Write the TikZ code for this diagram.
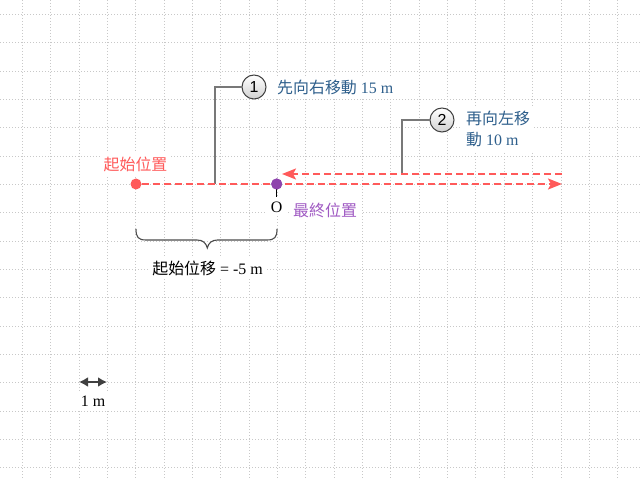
\documentclass[tikz,border=0pt]{standalone}
\usepackage{fontspec}
\setmainfont{Liberation Serif}
\newfontfamily\cjk{Noto Sans CJK TC}
\newfontfamily\digitfont{Liberation Sans}
\usetikzlibrary{arrows.meta}
\definecolor{myred}{RGB}{255,90,90}
\definecolor{mypurple}{RGB}{142,68,173}
\definecolor{mypurpletext}{RGB}{160,90,195}
\definecolor{myblue}{RGB}{46,95,140}
\definecolor{gridgray}{RGB}{200,200,200}
\definecolor{leadergray}{RGB}{120,120,120}
\tikzset{
  gridline/.style={draw=gridgray, line width=0.9bp, dash pattern=on 1bp off 2bp},
  redline/.style={draw=myred, line width=2bp, dash pattern=on 7bp off 4bp},
  redtip/.style={-{Stealth[length=14bp,width=11bp,inset=3bp,fill=myred]}},
  leader/.style={draw=leadergray, line width=1.3bp},
  numcircle/.style={circle, draw=black!75, line width=1bp, minimum size=24bp, inner sep=0pt,
    top color=white, bottom color=black!18, font=\digitfont\fontsize{16}{18}\selectfont},
  lbl/.style={fill=white, inner sep=4bp, font=\fontsize{16}{19}\selectfont},
  dotnode/.style={circle, minimum size=11bp, inner sep=0pt},
}
\begin{document}
\begin{tikzpicture}[x=1bp,y=-1bp]
\useasboundingbox (0,0) rectangle (640,480);
\fill[white] (0,0) rectangle (640,480);
% grid
\foreach \i in {0,...,21} \draw[gridline] ({22.3+28.35*\i},0) -- ({22.3+28.35*\i},480);
\foreach \j in {0,...,16} \draw[gridline] (0,{14.3+28.35*\j}) -- (640,{14.3+28.35*\j});

% labels
\node[lbl, text=myblue, anchor=west] (t1) at (273,87) {{\cjk 先向右移動} 15 m};
\node[lbl, text=myblue, anchor=west, align=left, font=\fontsize{16}{22}\selectfont] (t2) at (462,129) {{\cjk 再向左移}\\{\cjk 動} 10 m};
\node[lbl, text=myred] (tstart) at (135.5,164) {\cjk 起始位置};
\node[lbl, text=mypurpletext, anchor=west] (tend) at (289,210) {\cjk 最終位置};
\node[lbl] (tO) at (276.7,207) {O};
\node[lbl] (tdisp) at (207.5,268) {{\cjk 起始位移} = -5 m};
\node[lbl] (tscale) at (93,401) {1 m};

% callout circles
\node[numcircle] (c1) at (254,87) {1};
\node[numcircle] (c2) at (442,120) {2};

% coordinates
\coordinate (L1) at (215,184);
\coordinate (L2) at (402,174);
\coordinate (E) at (562,184);
\coordinate (U1) at (562,174);
\coordinate (U2) at (282,174);
\coordinate (Otick) at (276.7,197);
\coordinate (sa) at (79,382);
\coordinate (sb) at (107,382);

% leaders
\draw[leader] (c1.west) -| (L1);
\draw[leader] (c2.west) -| (L2);

% dots
\node[dotnode, fill=myred] (start) at (136,184) {};
\node[dotnode, fill=mypurple] (O) at (276.7,184) {};

% motion arrows
\draw[redline, redtip] (start.east) -- (E);
\draw[redline, redtip] (U1) -- (U2);

% tick under O
\draw[black, line width=1bp] (O.center) -- (Otick);
\node[dotnode, fill=mypurple] at (O) {};

% brace
\draw[draw=black!70, line width=1.1bp]
  (136,229) .. controls (136,237) and (138,240) .. (146,240) -- (197,240)
  .. controls (203,240) and (206,243) .. (207.3,248)
  .. controls (208.6,243) and (211.6,240) .. (217.6,240) -- (267,240)
  .. controls (275,240) and (277,237) .. (277,229);

% scale bar
\draw[draw=black!75, line width=2bp, {Latex[length=9bp,width=10bp]}-{Latex[length=9bp,width=10bp]}] (sa) -- (sb);
\end{tikzpicture}
\end{document}
